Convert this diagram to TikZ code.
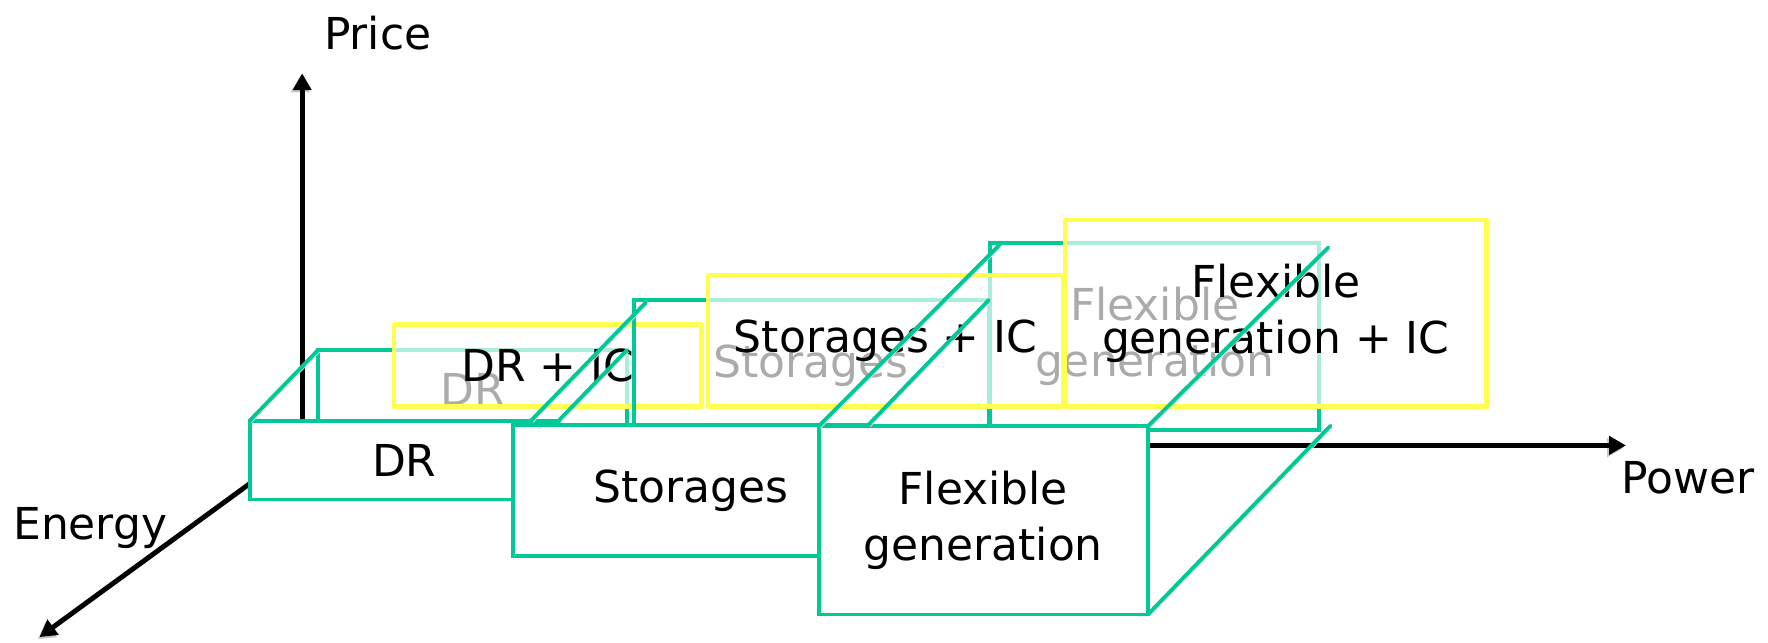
\documentclass[tikz,border=0pt]{standalone}
\usepackage{fontspec}
\setmainfont{DejaVu Sans}
\usetikzlibrary{arrows.meta}
\definecolor{faceGreen}{HTML}{00C896}
\definecolor{icYellow}{HTML}{FFFF50}

\begin{document}
\begin{tikzpicture}[
    x=0.5pt, y=-0.5pt,
    >={Triangle[length=7.5pt, width=8pt]},
    axis/.style={->, line width=2.2pt, preaction={draw=black!22, transform canvas={xshift=-0.8pt, yshift=-1pt}}},
    face/.style={draw=faceGreen, line width=1.7pt, inner sep=0pt, outer sep=0pt, align=center},
    front/.style={face, fill=white},
    icbox/.style={draw=icYellow, line width=2pt, line join=round, fill=white, fill opacity=0.67, text opacity=1, inner sep=0pt, outer sep=0pt, align=center},
    edge3d/.style={draw=faceGreen, line width=1.7pt, line cap=round, preaction={draw=black!12, transform canvas={xshift=0.8pt, yshift=-0.8pt}}},
    font=\fontsize{19.5}{25}\selectfont
]
    \useasboundingbox (0,0) rectangle (1568,570);

    % Achsen (Ursprung hinter der DR-Box)
    \coordinate (O) at (268,395);
    \coordinate (Ptip) at (268,65);    % Preis nach oben
    \coordinate (Wtip) at (1442,395);  % Leistung nach rechts
    \coordinate (Etip) at (35,565);    % Energie nach vorne links
    \draw[axis] (O) -- (Ptip);
    \draw[axis] (O) -- (Wtip);
    \draw[axis] (O) -- (Etip);

    \node (price) at (335,29) {Price};
    \node (energy) at (80,468) {Energy};
    \node (power) at (1497,424) {Power};

    % hintere Flaechen und IC-Boxen (halbtransparent darueber)
    \node[face, minimum width=137pt, minimum height=35pt] (DRback) at (419,345.5) {DR};
    \node[icbox, minimum width=136.25pt, minimum height=36.25pt] (DRic) at (485.75,324.25) {DR + IC};
    \node[face, minimum width=157.5pt, minimum height=58pt] (STback) at (719.5,324) {Storages};
    \node[face, minimum width=146pt, minimum height=83pt] (FGback) at (1024,298.5) {Flexible\\generation};
    \node[icbox, minimum width=157.5pt, minimum height=58.25pt] (STic) at (785.5,302.25) {Storages + IC};
    \node[icbox, minimum width=187pt, minimum height=82.75pt] (FGic) at (1131.5,277.75) {Flexible\\generation + IC};

    % vordere Flaechen
    \node[front, minimum width=137pt, minimum height=35pt] (DRfront) at (358.5,408) {DR};
    \node[front, minimum width=157.5pt, minimum height=58pt] (STfront) at (612.5,435) {Storages};
    \node[front, minimum width=146pt, minimum height=83.5pt] (FGfront) at (872,461.5) {Flexible\\generation};

    % schraege Kanten (vorne -> hinten)
    \draw[edge3d] (DRfront.north west) -- (DRback.north west);
    \draw[edge3d] (DRfront.north east) -- (DRback.north east);
    \draw[edge3d] ([xshift=8pt, yshift=2pt]STfront.north west) -- ([xshift=5.5pt, yshift=-1pt]STback.north west);
    \draw[edge3d] (STfront.north east) -- (STback.north east);
    \draw[edge3d] (FGfront.north west) -- ([xshift=5pt]FGback.north west);
    \draw[edge3d] (FGfront.north east) -- ([xshift=4pt, yshift=-2pt]FGback.north east);
    \draw[edge3d] (FGfront.south east) -- ([xshift=5pt, yshift=2pt]FGback.south east);

\end{tikzpicture}
\end{document}
